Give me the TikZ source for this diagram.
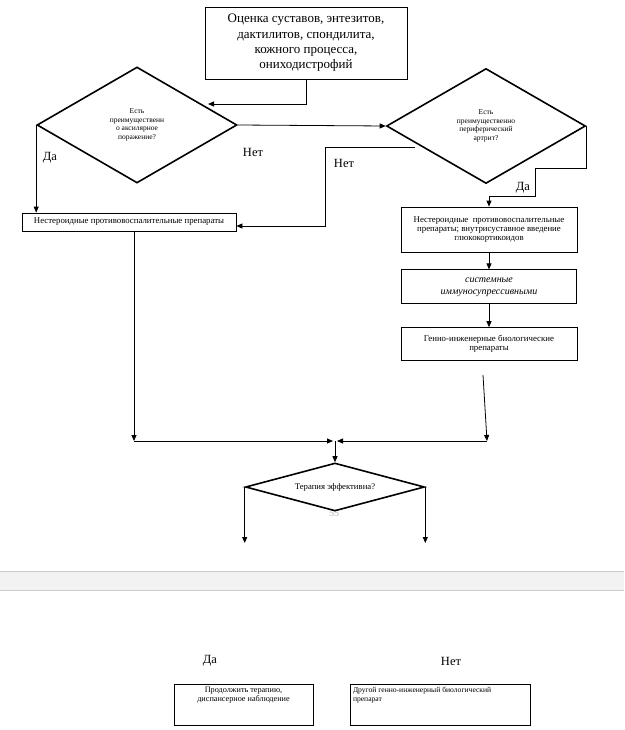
\documentclass[tikz,border=0pt]{standalone}
\usepackage{fontspec}
\setmainfont{Liberation Serif}
\usetikzlibrary{positioning}
\usetikzlibrary{arrows.meta}
\usetikzlibrary{shapes.geometric}
\usetikzlibrary{calc}

\begin{document}
\begin{tikzpicture}[
            x = 1pt, y = -1pt, % page grid, one unit per pixel
            > = {Stealth[length=6pt, width=5pt, inset=0pt]}, % arrow head style
            line width = 0.8pt % line style
            ]

        \tikzstyle{block}=[
            draw,
            rectangle,
            line width = 0.8pt,
            inner sep = 2pt,
            align = center,
            font = \fontsize{8.8}{9.2}\selectfont
        ]
        \tikzstyle{decision}=[
            draw,
            diamond,
            line width = 1.6pt,
            inner sep = 0pt,
            align = center,
            font = \fontsize{7.5}{8.5}\selectfont
        ]
        \tikzstyle{answer}=[
            font = \fontsize{12.5}{14}\selectfont
        ]

        \useasboundingbox (0,0) rectangle (624,730);
        \fill[white] (0,0) rectangle (624,730);

	% first page
	\node[block, minimum width=202pt, minimum height=72pt, font=\fontsize{13}{15.3}\selectfont] (assess) at (306,43) {Оценка суставов, энтезитов,\\дактилитов, спондилита,\\кожного процесса,\\ониходистрофий};

        % decisions
        \node[decision, minimum width=200pt, minimum height=116pt] (axial) at (137,125) {Есть\\преимущественн\\о аксилярное\\поражение?};
        \node[decision, minimum width=199pt, minimum height=115pt] (periph) at (486,126) {Есть\\преимущественно\\периферический\\артрит?};

        % treatments
        \node[block, minimum width=214pt, minimum height=18pt] (nsaid) at (129,222) {Нестероидные противовоспалительные препараты};
        \node[block, minimum width=176pt, minimum height=45pt] (nsaidgc) at (489,229.5) {Нестероидные\ \ противовоспалительные\\препараты; внутрисуставное введение\\глюкокортикоидов};
        \node[block, minimum width=175pt, minimum height=34pt, font=\fontsize{10}{12}\selectfont\itshape] (immuno) [below = 17pt of nsaidgc] {системные\\иммуносупрессивными};
        \node[block, minimum width=176pt, minimum height=33pt] (biolog) [below = 23pt of immuno] {Генно-инженерные биологические\\препараты};

        \node[text=gray!60, font=\fontsize{10}{12}\selectfont] (pagenum) at (334,513) {55};
        \node[decision, minimum width=179pt, minimum height=48pt, shape aspect=3.7, font=\fontsize{8.7}{9}\selectfont] (effect) at (335,487) {Терапия эффективна?};

        % answers
        \node[answer] (axialyes) at (50,158) {Да};
        \node[answer] (axialno) at (253,152) {Нет};
        \node[answer] (periphno) at (344,163) {Нет};
        \node[answer] (periphyes) at (523,188) {Да};

        % connections
        \coordinate (axialin) at (208,104);
        \draw[->] (assess.south) |- (axialin);
        \draw[->] (axial.east) -- (periph.west);
        \draw[->] (axial.west) -- (axial.west |- nsaid.north);

        \coordinate (periphout) at (415,147);
        \draw[->] (periphout) -| (325,226) -- (nsaid.east |- 0,226);
        \draw[->] (periph.east) |- (535,168) |- (nsaidgc.north |- 0,196) -- (nsaidgc.north);

        \draw[->] (nsaidgc.south) -- (immuno.north);
        \draw[->] (immuno.south) -- (biolog.north);

        \coordinate (biolout) at (483,375);
        \coordinate (rightjoin) at (487,441);
        \coordinate (leftjoin) at (134,441);
        \coordinate (merge) at (335,441);
        \draw[->] (biolout) -- (rightjoin);
        \draw[->] (rightjoin) -- ([xshift=2pt]merge);
        \draw[->] (nsaid.south -| leftjoin) -- (leftjoin);
        \draw[->] (leftjoin) -- ([xshift=-2pt]merge);
        \draw[->] (merge) -- (effect.north);

        \coordinate (yesend) at (244,543);
        \coordinate (noend) at (423,543);
        \draw[->] (effect.west) -- (effect.west |- yesend);
        \draw[->] (effect.east) -- (effect.east |- noend);

        % page break
        \fill[gray!10] (0,571) rectangle (624,590);
        \draw[gray!40] (0,571) -- (624,571);
        \draw[gray!40] (0,590) -- (624,590);

        % second page
        \node[answer] (effectyes) at (210,661) {Да};
        \node[answer] (effectno) at (451,661) {Нет};

        \node[block, minimum width=139pt, minimum height=41pt,
            label={[anchor=north, align=center, inner sep=0pt, yshift=-3pt, font=\fontsize{8.2}{9.2}\selectfont]north:{Продолжить терапию,\\диспансерное наблюдение}}] (cont) at (243.5,704.5) {};
        \node[block, minimum width=180pt, minimum height=41pt,
            label={[anchor=north west, align=left, inner sep=0pt, xshift=3pt, yshift=-3pt, font=\fontsize{7.6}{9}\selectfont]north west:{Другой генно-инженерный биологический\\препарат}}] (other) at (440,704.5) {};

\end{tikzpicture}
\end{document}
